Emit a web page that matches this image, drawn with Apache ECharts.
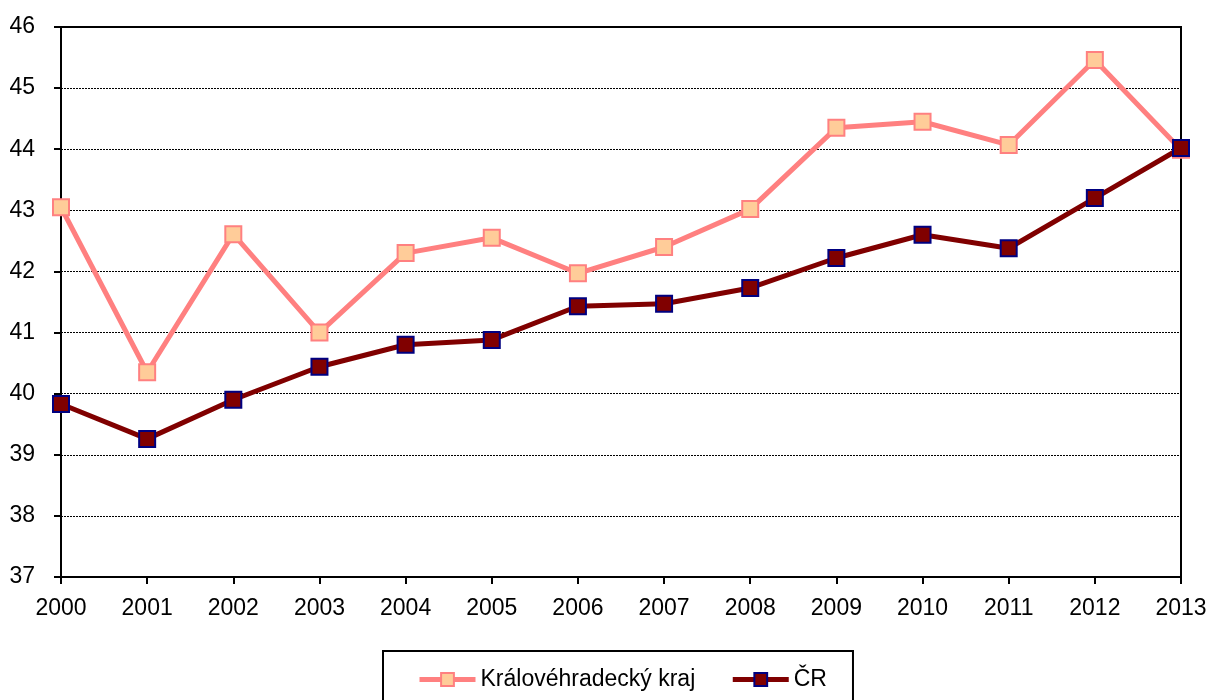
<!DOCTYPE html>
<html>
<head>
<meta charset="utf-8">
<script src="https://cdn.jsdelivr.net/npm/echarts@6/dist/echarts.min.js"></script>
<style>
  html, body { margin: 0; padding: 0; background: #fff; }
  #chart { width: 1210px; height: 700px; }
</style>
</head>
<body>
<div id="chart"></div>
<script>
const years = ['2000', '2001', '2002', '2003', '2004', '2005', '2006', '2007', '2008', '2009', '2010', '2011', '2012', '2013']
const kralovehradecky = [43.05, 40.35, 42.61, 41.0, 42.3, 42.55, 41.97, 42.4, 43.02, 44.35, 44.45, 44.07, 45.46, 43.99]
const cr = [39.83, 39.26, 39.9, 40.44, 40.8, 40.88, 41.43, 41.47, 41.73, 42.22, 42.6, 42.38, 43.2, 44.02]

const myChart = echarts.init(document.getElementById('chart'))

const font = '"Liberation Sans", Arial, sans-serif'

const option = {
  animation: false,
  grid: { left: 61, right: 29, top: 27, bottom: 123 },
  legend: {
    top: 651,
    left: 383,
    borderColor: '#000',
    borderWidth: 2,
    padding: [17, 26, 20, 34],
    itemWidth: 56,
    itemHeight: 16,
    itemGap: 35,
    lineStyle: { width: 5 },
    textStyle: { fontFamily: font, fontSize: 23, color: '#000' },
    data: ['Královéhradecký kraj', 'ČR']
  },
  xAxis: {
    type: 'category',
    data: years,
    boundaryGap: false,
    axisLine: { lineStyle: { color: '#000', width: 2 } },
    axisTick: { show: true, length: 7, lineStyle: { color: '#000', width: 2 } },
    axisLabel: { fontFamily: font, fontSize: 23, color: '#000', margin: 20 },
    splitLine: { show: false }
  },
  yAxis: {
    type: 'value',
    min: 37,
    max: 46,
    interval: 1,
    axisLine: { show: true, lineStyle: { color: '#000', width: 2 } },
    axisTick: { show: true, inside: false, length: 7, lineStyle: { color: '#000', width: 2 } },
    axisLabel: { fontFamily: font, fontSize: 23, color: '#000', margin: 26 },
    splitLine: { show: true, lineStyle: { color: '#000', width: 1, type: [2, 1] } }
  },
  series: [
    {
      name: 'Královéhradecký kraj',
      type: 'line',
      data: kralovehradecky,
      symbol: 'rect',
      symbolSize: 16,
      lineStyle: { color: '#FF8080', width: 5 },
      itemStyle: { color: '#FFCC99', borderColor: '#FF8080', borderWidth: 2 },
      z: 2
    },
    {
      name: 'ČR',
      type: 'line',
      data: cr,
      symbol: 'rect',
      symbolSize: 16,
      lineStyle: { color: '#800000', width: 5 },
      itemStyle: { color: '#800000', borderColor: '#000080', borderWidth: 2 },
      z: 3
    }
  ],
  graphic: [
    {
      type: 'rect',
      shape: { x: 61, y: 27, width: 1120, height: 550 },
      style: { fill: 'none', stroke: '#000', lineWidth: 2 },
      silent: true,
      z: 0
    }
  ]
}

myChart.setOption(option)
</script>
</body>
</html>
